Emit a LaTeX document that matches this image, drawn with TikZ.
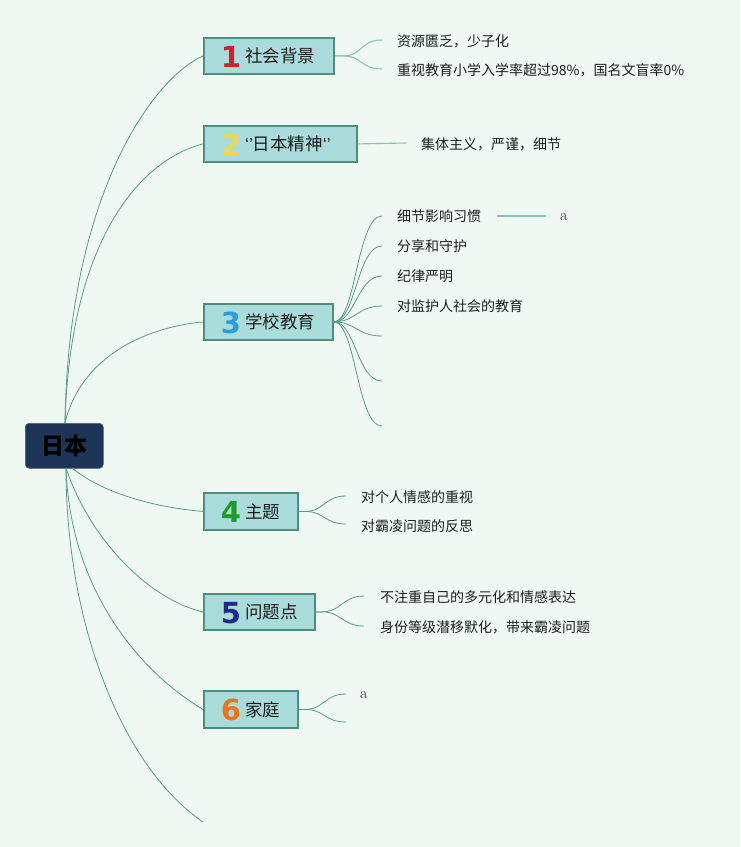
\documentclass[tikz,border=0pt]{standalone}
\usepackage{fontspec}
\newfontfamily\cjk{Noto Sans CJK SC}
\newfontfamily\numf{DejaVu Sans}
\newfontfamily\qf{Liberation Sans}
\usetikzlibrary{calc}
\definecolor{bgc}{HTML}{EFF9F1}
\definecolor{boxfill}{HTML}{A9DCDA}
\definecolor{boxline}{HTML}{4E8E7E}
\definecolor{rootfill}{HTML}{1F3557}
\definecolor{mainln}{HTML}{5A9A86}
\definecolor{leafln}{HTML}{8CC2B2}
\definecolor{txt}{HTML}{1E1E1E}
\definecolor{n1}{HTML}{D0202E}
\definecolor{n2}{HTML}{F2D64E}
\definecolor{n3}{HTML}{2C9DDC}
\definecolor{n4}{HTML}{1F9A30}
\definecolor{n5}{HTML}{1B2C8A}
\definecolor{n6}{HTML}{F0721F}
\tikzset{
  bbox/.style={draw=boxline, line width=1.8pt, fill=boxfill, minimum height=36pt, anchor=north west, inner sep=0pt},
  numst/.style={font=\numf\bfseries\fontsize{29}{29}\selectfont, inner sep=0pt},
  lbl/.style={font=\cjk\fontsize{17.5}{18}\selectfont, text=txt, anchor=west, inner sep=0pt},
  leaf/.style={font=\cjk\fontsize{14}{15}\selectfont, text=txt, anchor=west, inner sep=0pt},
  aleaf/.style={font=\fontsize{16}{16}\selectfont, text=txt, anchor=west, inner sep=0pt},
  mln/.style={draw=mainln, line width=0.8pt},
  lln/.style={draw=leafln, line width=1.1pt},
}
\begin{document}
\begin{tikzpicture}[x=1pt,y=-1pt]
\fill[bgc] (0,0) rectangle (740,847);
\useasboundingbox (0,0) rectangle (740,847);

% root
\node[draw=rootfill!80!white, line width=0.6pt, fill=rootfill, rounded corners=4pt, minimum width=78pt, minimum height=45pt, anchor=north west, inner sep=0pt, font=\cjk\bfseries\fontsize{23}{23}\selectfont, text=black] (root) at (25,423) {日本};

% branch boxes
\node[bbox, minimum width=130pt] (b1) at (203,37) {};
\node[numst, text=n1] at ($(b1.west)+(28,1)$) {1};
\node[lbl] at ($(b1.west)+(42,0)$) {社会背景};

\node[bbox, minimum width=153pt] (b2) at (203,125) {};
\node[numst, text=n2] at ($(b2.west)+(28,1)$) {2};
\node[lbl] at ($(b2.west)+(42,0)$) {{\qf ‘’}日本精神{\qf ‘’}};

\node[bbox, minimum width=129pt] (b3) at (203,303) {};
\node[numst, text=n3] at ($(b3.west)+(28,1)$) {3};
\node[lbl] at ($(b3.west)+(42,0)$) {学校教育};

\node[bbox, minimum width=94pt, minimum height=37pt] (b4) at (203,492) {};
\node[numst, text=n4] at ($(b4.west)+(28,1)$) {4};
\node[lbl] at ($(b4.west)+(42,0)$) {主题};

\node[bbox, minimum width=111pt] (b5) at (203,593) {};
\node[numst, text=n5] at ($(b5.west)+(28,1)$) {5};
\node[lbl] at ($(b5.west)+(42,0)$) {问题点};

\node[bbox, minimum width=94pt, minimum height=37pt] (b6) at (203,690) {};
\node[numst, text=n6] at ($(b6.west)+(28,1)$) {6};
\node[lbl] at ($(b6.west)+(42,0)$) {家庭};

% root connectors
\coordinate (rt) at (65,423);
\coordinate (rb) at (66,468);
\coordinate (tail) at (203,822);
\draw[mln] (rt) .. controls (68,200) and (150,80) .. (b1.west);
\draw[mln] (rt) .. controls (70,240) and (140,160) .. (b2.west);
\draw[mln] (rt) .. controls (80,360) and (140,328) .. (b3.west);
\draw[mln] (72,468) .. controls (105,495) and (160,508) .. (b4.west);
\draw[mln] (rb) .. controls (90,540) and (150,600) .. (b5.west);
\draw[mln] (rb) .. controls (70,590) and (140,672) .. (b6.west);
\draw[mln] (rb) .. controls (66,620) and (120,765) .. (tail);

% branch 1 leaves
\node[leaf] (l11) at (397,41) {资源匮乏，少子化};
\node[leaf] (l12) at (397,70) {重视教育小学入学率超过98\%，国名文盲率0\%};
\coordinate (e11) at (382,40);
\coordinate (e12) at (382,69);
\foreach \e in {e11,e12}
  \draw[lln] (b1.east) -- ++(8,0) .. controls ($(b1.east)+(28,0)$) and ($(\e)+(-22,0)$) .. (\e);

% branch 2 leaf
\node[leaf] (l21) at (421,144) {集体主义，严谨，细节};
\coordinate (e21) at (406,143);
\draw[lln] (b2.east) -- (e21);

% branch 3 leaves
\node[leaf] (l31) at (397,216) {细节影响习惯};
\node[leaf] (l32) at (397,246) {分享和守护};
\node[leaf] (l33) at (397,276) {纪律严明};
\node[leaf] (l34) at (397,306) {对监护人社会的教育};
\coordinate (e31) at (382,216);
\coordinate (e32) at (382,246);
\coordinate (e33) at (382,276);
\coordinate (e34) at (382,306);
\coordinate (e35) at (382,336);
\coordinate (e36) at (382,381);
\coordinate (e37) at (382,426);
\foreach \e in {e31,e32,e33,e34,e35,e36,e37}
  \draw[mln] (b3.east) .. controls ($(b3.east)+(22,0)$) and ($(\e)+(-25,0)$) .. (\e);
\node[aleaf] (a31) at (560,217) {a};
\draw[lln] (497,216) -- (546,216);

% branch 4 leaves
\node[leaf] (l41) at (361,497) {对个人情感的重视};
\node[leaf] (l42) at (361,526) {对霸凌问题的反思};
\coordinate (e41) at (346,496);
\coordinate (e42) at (346,524);
\foreach \e in {e41,e42}
  \draw[mln] (b4.east) -- ++(6,0) .. controls ($(b4.east)+(26,0)$) and ($(\e)+(-22,0)$) .. (\e);

% branch 5 leaves
\node[leaf] (l51) at (380,597) {不注重自己的多元化和情感表达};
\node[leaf] (l52) at (380,627) {身份等级潜移默化，带来霸凌问题};
\coordinate (e51) at (364,596);
\coordinate (e52) at (364,626);
\foreach \e in {e51,e52}
  \draw[mln] (b5.east) -- ++(6,0) .. controls ($(b5.east)+(26,0)$) and ($(\e)+(-22,0)$) .. (\e);

% branch 6 leaves
\node[aleaf] (l61) at (360,695) {a};
\coordinate (e61) at (346,694);
\coordinate (e62) at (346,722);
\foreach \e in {e61,e62}
  \draw[mln] (b6.east) -- ++(6,0) .. controls ($(b6.east)+(26,0)$) and ($(\e)+(-22,0)$) .. (\e);
\end{tikzpicture}
\end{document}
